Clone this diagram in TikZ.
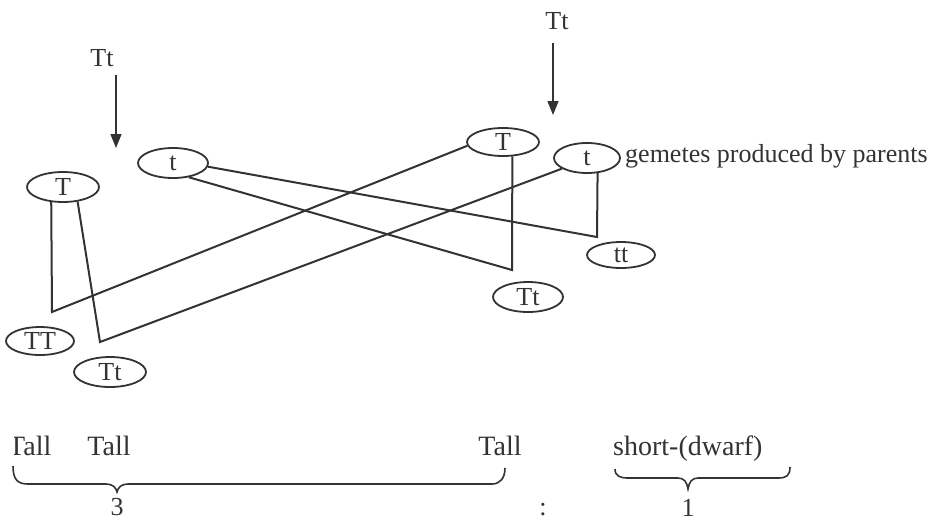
\documentclass[tikz,border=0pt]{standalone}
\usepackage{fontspec}
\setmainfont{Liberation Serif}
\usetikzlibrary{arrows.meta,shapes.geometric}
\definecolor{ink}{HTML}{333333}
\begin{document}
\begin{tikzpicture}[x=1pt,y=-1pt,
  every node/.style={text=ink, font=\fontsize{26}{30}\selectfont, inner sep=0pt},
  big/.style={font=\fontsize{28}{32}\selectfont},
  gam/.style={ellipse, draw=ink, line width=1.8pt, inner sep=0pt},
  link/.style={draw=ink, line width=2pt, line join=miter},
  arr/.style={draw=ink, line width=1.4pt, -{Triangle[length=14pt,width=11pt]}},
  bracepath/.style={draw=ink, line width=1.6pt}]
\useasboundingbox[fill=white] (0,0) rectangle (936,523);

% parents and arrows
\node (pl) at (102,58) {Tt};
\node (pr) at (557,21) {Tt};
\coordinate (plA) at (116,75);
\coordinate (plB) at (116,148);
\coordinate (prA) at (553,43);
\coordinate (prB) at (553,115);
\draw[arr] (plA) -- (plB);
\draw[arr] (prA) -- (prB);

% gametes
\node[gam, minimum width=72pt, minimum height=30pt] (Tl) at (63,187) {T};
\node[gam, minimum width=70pt, minimum height=30pt] (tl) at (173,163) {t};
\node[gam, minimum width=72pt, minimum height=28pt] (Tr) at (503,142) {T};
\node[gam, minimum width=66pt, minimum height=30pt] (tr) at (587,158) {t};
\node[anchor=west] (lab) at (625,156) {gemetes produced by parents};

% offspring
\node[gam, minimum width=68pt, minimum height=28pt] (TT) at (40,341) {TT};
\node[gam, minimum width=72pt, minimum height=30pt] (Ttl) at (110,372) {Tt};
\node[gam, minimum width=70pt, minimum height=30pt] (Ttr) at (528,297) {Tt};
\node[gam, minimum width=68pt, minimum height=26pt] (tt) at (621,255) {tt};

% crossing lines
\coordinate (a1) at (52,312);
\coordinate (b1) at (100,342);
\coordinate (c1) at (597,237);
\coordinate (d1) at (512,270);
\draw[link] (Tl.232) -- (a1) -- (Tr.186);
\draw[link] (Tl.315) -- (b1) -- (tr.203);
\draw[link] (tl.354) -- (c1) -- (tr.305);
\draw[link] (tl.318) -- (d1) -- (Tr.303);

% phenotypes
\begin{scope}
  \clip (14.5,400) rectangle (80,480);
  \node[big, anchor=base west] (tall1) at (8,455) {Tall};
\end{scope}
\node[big, anchor=base] (tall2) at (109,455) {Tall};
\node[big, anchor=base] (tall3) at (500,455) {Tall};
\node[big, anchor=base west] (short) at (613,455) {short-(dwarf)};

% braces
\draw[bracepath] (13,466) .. controls (13,480) and (18,484) .. (28,484) -- (106,484)
  .. controls (112,484) and (116,487) .. (117,492)
  .. controls (118,487) and (122,484) .. (128,484) -- (492,484)
  .. controls (500,484) and (505,478) .. (505,468);
\draw[bracepath] (615,469) .. controls (615,476) and (620,478) .. (628,478) -- (678,478)
  .. controls (684,478) and (687,482) .. (688,489)
  .. controls (689,482) and (692,478) .. (698,478) -- (778,478)
  .. controls (786,478) and (790,476) .. (790,467);

\node (n3) at (117,507) {3};
\node (colon) at (543,510) {:};
\node (n1) at (688,508) {1};
\end{tikzpicture}
\end{document}
